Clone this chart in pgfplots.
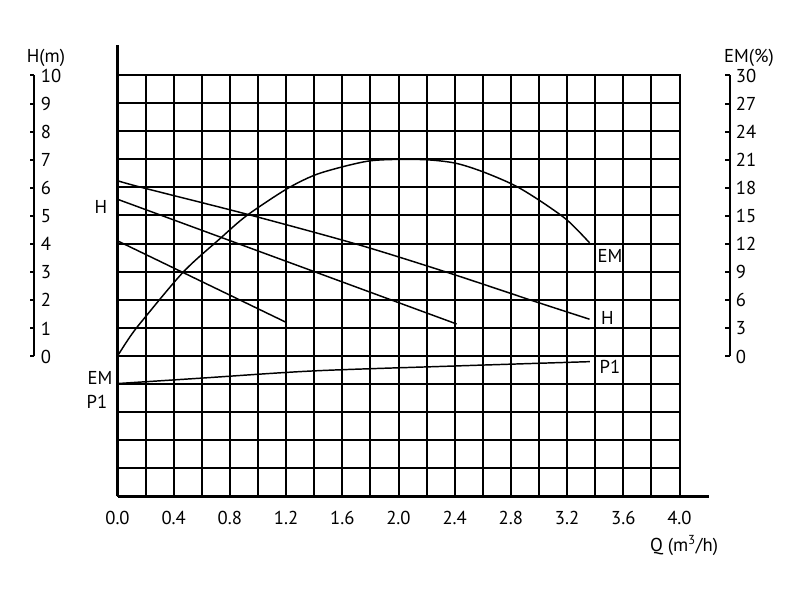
\documentclass[border=0pt]{standalone}
\usepackage{pgfplots}
\pgfplotsset{compat=1.18}
\usepackage{fontspec}
\setmainfont{PT Sans}
\begin{document}
\fontsize{14}{16}\selectfont
\begin{tikzpicture}
\path[use as bounding box] (0,0) rectangle (600pt,450pt);
% grid
\begin{axis}[at={(88.125pt,77.625pt)}, anchor=south west, scale only axis,
  width=421.5pt, height=316.125pt, xmin=0, xmax=4, ymin=-5, ymax=10,
  xtick distance=0.2, ytick distance=1, grid=major,
  grid style={black, line width=1.5pt}, axis line style={line width=1.5pt},
  xticklabels={}, yticklabels={}, major tick length=0pt]
\end{axis}
% main axis with curves
\begin{axis}[at={(88.125pt,77.625pt)}, anchor=south west, scale only axis,
  width=443.6pt, height=338.6pt, xmin=0, xmax=4.21, ymin=-5, ymax=11.07,
  axis x line=bottom, axis y line=left, axis line style={-, line width=2pt, black},
  xtick={0,0.4,0.8,1.2,1.6,2,2.4,2.8,3.2,3.6,4}, ytick=\empty, major tick length=0pt,
  xticklabel style={/pgf/number format/.cd, fixed, fixed zerofill, precision=1,
    assume math mode=true, /tikz/.cd, yshift=-6pt},
  clip=false]
\addplot[black, line width=1.1pt, smooth] table[y expr=\thisrow{em}/3] {
q em
0 0
0.089 2.06
0.18 3.84
0.47 9.0
0.73 12.54
0.92 15.0
1.2 17.8
1.40 19.3
1.60 20.2
1.80 20.85
2.01 21.0
2.22 20.94
2.41 20.58
2.6 19.68
2.82 18.27
3.0 16.65
3.2 14.52
3.36 12.09
};
\addplot[black, line width=1.1pt, smooth] coordinates {
(0,6.24) (0.18,5.99) (0.92,5.05) (1.71,3.97) (2.37,2.94) (2.96,1.96) (3.36,1.31)};
\addplot[black, line width=1.1pt] coordinates {(0,5.58) (2.414,1.14)};
\addplot[black, line width=1.1pt] coordinates {(0,4.1) (1.204,1.19)};
\addplot[black, line width=1.1pt, smooth] coordinates {
(0,-0.98) (0.587,-0.79) (1.394,-0.53) (2.367,-0.36) (3.363,-0.2)};
\end{axis}
% left H axis
\begin{axis}[at={(25.875pt,182.625pt)}, anchor=south east, scale only axis,
  width=1pt, height=210.75pt, xmin=0, xmax=1, ymin=0, ymax=10,
  axis x line=none, axis y line=right, axis line style={-, line width=1.5pt, black},
  ytick={0,1,2,3,4,5,6,7,8,9,10}, tick align=inside, major tick length=3.5pt,
  tick style={line width=1.5pt, black},
  yticklabel style={/pgf/number format/assume math mode=true}]
\end{axis}
% right EM axis
\begin{axis}[at={(547.125pt,182.625pt)}, anchor=south east, scale only axis,
  width=1pt, height=210.75pt, xmin=0, xmax=1, ymin=0, ymax=30,
  axis x line=none, axis y line=right, axis line style={-, line width=1.5pt, black},
  ytick={0,3,6,9,12,15,18,21,24,27,30}, tick align=inside, major tick length=3.5pt,
  tick style={line width=1.5pt, black},
  yticklabel style={/pgf/number format/assume math mode=true}]
\end{axis}
\node[inner sep=0pt] at (34.5pt,406.5pt) {H(m)};
\node[inner sep=0pt] at (561.75pt,406.5pt) {EM(\%)};
\node[inner sep=0pt] at (75.75pt,294.75pt) {H};
\node[inner sep=0pt] at (75pt,166.5pt) {EM};
\node[inner sep=0pt] at (72.75pt,148.5pt) {P1};
\node[inner sep=0pt] at (457.5pt,258pt) {EM};
\node[inner sep=0pt] at (455.6pt,211.5pt) {H};
\node[inner sep=0pt] at (457.5pt,174.75pt) {P1};
\node[inner sep=0pt] at (513pt,41.25pt) {Q (m\textsuperscript{3}/h)};
\end{tikzpicture}
\end{document}
